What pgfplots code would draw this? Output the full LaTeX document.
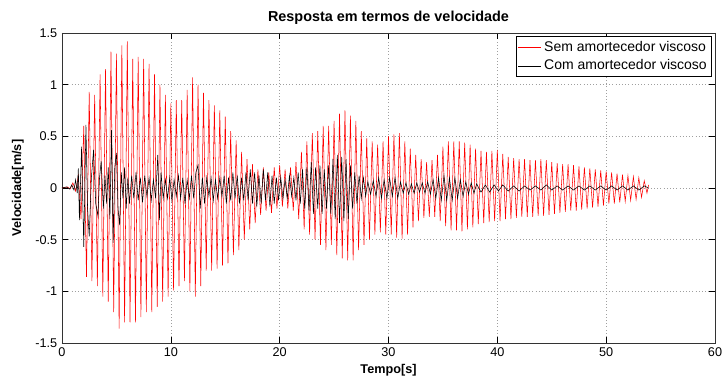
\documentclass[border=0pt]{standalone}
\usepackage{pgfplots}
\pgfplotsset{compat=1.18}
\usepackage{fontspec}
\setmainfont{Liberation Sans}
\begin{document}
\begin{tikzpicture}
\begin{axis}[name=ax,
  scale only axis, width=489.75pt, height=232.5pt,
  xmin=0, xmax=60, ymin=-1.5, ymax=1.5,
  xtick={0,10,...,60}, ytick={-1.5,-1,...,1.5},
  grid=major, major grid style={dotted, gray!75, line width=0.4pt},
  tick align=inside, tick style={black, line width=0.4pt},
  axis line style={black!80, line width=0.5pt},
  /pgf/number format/assume math mode=true,
  tick label style={font=\fontsize{9.5}{10}\selectfont},
  title={\textbf{Resposta em termos de velocidade}},
  title style={font=\fontsize{10.8}{12}\selectfont, yshift=-3pt},
  xlabel={\textbf{Tempo[s]}}, ylabel={\textbf{Velocidade[m/s]}},
  label style={font=\fontsize{9.5}{11}\selectfont},
  xlabel style={yshift=1pt}, ylabel style={yshift=2pt},
  legend style={at={(0.995,0.99)}, anchor=north east, draw=black, line width=0.4pt,
    font=\fontsize{10.5}{12}\selectfont, inner sep=1.5pt, row sep=1pt,
    legend cell align=left},
  legend image post style={line width=0.5pt},
]
\addplot[red, line width=0.4pt] coordinates {
(0,0) (0.5,0.01) (0.75,-0.01) (1.0,0.05) (1.25,-0.03) (1.5,0.12) (1.75,-0.3)
(2.0,0.6) (2.25,-0.86) (2.5,0.93) (2.75,-0.9) (3.0,0.9) (3.25,-0.95) (3.5,1.1) (3.75,-1.05)
(4.0,1.15) (4.25,-1.1) (4.5,1.32) (4.75,-1.2) (5.0,1.3) (5.25,-1.36) (5.5,1.38) (5.75,-1.3)
(6.0,1.42) (6.25,-1.3) (6.5,1.25) (6.75,-1.3) (7.0,1.27) (7.25,-1.25) (7.5,1.25) (7.75,-1.2)
(8.0,1.2) (8.25,-1.2) (8.5,1.1) (8.75,-1.15) (9.0,1.0) (9.25,-1.1) (9.5,0.9) (9.75,-1.05)
(10.0,0.82) (10.25,-0.99) (10.5,0.85) (10.75,-0.95) (11.0,0.85) (11.25,-0.9) (11.5,0.95) (11.75,-1.0)
(12.0,1.07) (12.25,-1.05) (12.5,1.0) (12.75,-0.95) (13.0,0.92) (13.25,-0.8) (13.5,0.85) (13.75,-0.8)
(14.0,0.8) (14.25,-0.78) (14.5,0.75) (14.75,-0.75) (15.0,0.69) (15.25,-0.73) (15.5,0.55) (15.75,-0.65)
(16.0,0.46) (16.25,-0.6) (16.5,0.35) (16.75,-0.5) (17.0,0.28) (17.25,-0.4) (17.5,0.23) (17.75,-0.34)
(18.0,0.18) (18.25,-0.26) (18.5,0.2) (18.75,-0.22) (19.0,0.15) (19.25,-0.24) (19.5,0.2) (19.75,-0.2)
(20.0,0.22) (20.25,-0.18) (20.5,0.18) (20.75,-0.2) (21.0,0.2) (21.25,-0.22) (21.5,0.25) (21.75,-0.3)
(22.0,0.35) (22.25,-0.4) (22.5,0.45) (22.75,-0.45) (23.0,0.53) (23.25,-0.5) (23.5,0.55) (23.75,-0.55)
(24.0,0.6) (24.25,-0.6) (24.5,0.6) (24.75,-0.55) (25.0,0.65) (25.25,-0.65) (25.5,0.72) (25.75,-0.68)
(26.0,0.75) (26.25,-0.7) (26.5,0.7) (26.75,-0.7) (27.0,0.65) (27.25,-0.6) (27.5,0.55) (27.75,-0.55)
(28.0,0.48) (28.25,-0.5) (28.5,0.45) (28.75,-0.45) (29.0,0.42) (29.25,-0.43) (29.5,0.45) (29.75,-0.45)
(30.0,0.5) (30.25,-0.45) (30.5,0.52) (30.75,-0.48) (31.0,0.53) (31.25,-0.49) (31.5,0.45) (31.75,-0.45)
(32.0,0.38) (32.25,-0.38) (32.5,0.32) (32.75,-0.32) (33.0,0.28) (33.25,-0.29) (33.5,0.25) (33.75,-0.28)
(34.0,0.27) (34.25,-0.28) (34.5,0.32) (34.75,-0.32) (35.0,0.4) (35.25,-0.37) (35.5,0.45) (35.75,-0.41)
(36.0,0.45) (36.25,-0.41) (36.5,0.45) (36.75,-0.42) (37.0,0.44) (37.25,-0.4) (37.5,0.42) (37.75,-0.38)
(38.0,0.38) (38.25,-0.35) (38.5,0.36) (38.75,-0.34) (39.0,0.35) (39.25,-0.33) (39.5,0.36) (39.75,-0.32)
(40.0,0.37) (40.25,-0.32) (40.5,0.33) (40.75,-0.3) (41.0,0.3) (41.25,-0.3) (41.5,0.29) (41.75,-0.29)
(42.0,0.28) (42.25,-0.28) (42.5,0.28) (42.75,-0.28) (43.0,0.27) (43.25,-0.28) (43.5,0.27) (43.75,-0.27)
(44.0,0.28) (44.25,-0.27) (44.5,0.27) (44.75,-0.26) (45.0,0.25) (45.25,-0.25) (45.5,0.24) (45.75,-0.24)
(46.0,0.23) (46.25,-0.23) (46.5,0.23) (46.75,-0.22) (47.0,0.22) (47.25,-0.22) (47.5,0.21) (47.75,-0.21)
(48.0,0.2) (48.25,-0.2) (48.5,0.19) (48.75,-0.19) (49.0,0.18) (49.25,-0.18) (49.5,0.17) (49.75,-0.17)
(50.0,0.16) (50.25,-0.15) (50.5,0.15) (50.75,-0.15) (51.0,0.14) (51.25,-0.14) (51.5,0.13) (51.75,-0.13)
(52.0,0.12) (52.25,-0.12) (52.5,0.11) (52.75,-0.11) (53.0,0.1) (53.25,-0.09) (53.5,0.07) (53.75,-0.05)
(53.9,0.03)
};
\addlegendentry{Sem amortecedor viscoso}
\addplot[black, line width=0.4pt] coordinates {
(0,0) (0.4,0.01) (0.7,-0.01) (0.9,0.03) (1.1,-0.02) (1.25,0.08) (1.4,-0.05) (1.5,0.19)
(1.6,-0.31) (1.8,0.4) (2.0,-0.57) (2.2,0.61) (2.35,-0.2) (2.5,-0.47) (2.7,0.1) (2.9,0.37)
(3.1,-0.15) (3.3,-0.27) (3.45,0.1) (3.6,0.26) (3.8,-0.2) (3.95,0.12) (4.1,-0.15) (4.25,0.2)
(4.4,-0.3) (4.55,0.56) (4.7,-0.53) (4.85,0.2) (5.0,0.34) (5.15,-0.2) (5.3,-0.36) (5.45,0.15)
(5.6,-0.1) (5.75,0.2) (5.9,-0.2) (6.05,0.1) (6.2,-0.15) (6.4,0.12) (6.6,-0.1) (6.8,0.15)
(7.0,-0.12) (7.2,0.1) (7.4,-0.14) (7.6,0.12) (7.8,-0.08) (8.0,0.1) (8.2,-0.12) (8.4,0.08)
(8.6,-0.1) (8.8,0.32) (8.95,-0.31) (9.1,0.15) (9.3,-0.1) (9.5,0.08) (9.7,-0.1) (9.9,0.1)
(10.1,-0.12) (10.3,0.08) (10.5,-0.08) (10.7,0.12) (10.9,-0.1) (11.1,0.1) (11.3,-0.15) (11.5,0.08)
(11.7,-0.1) (11.9,0.12) (12.1,-0.1) (12.3,0.15) (12.5,0.22) (12.7,-0.2) (12.9,0.1) (13.1,-0.15)
(13.3,0.1) (13.5,-0.08) (13.7,0.1) (13.9,-0.12) (14.1,0.08) (14.3,-0.1) (14.5,0.1) (14.7,-0.08)
(14.9,0.12) (15.1,-0.15) (15.3,0.1) (15.5,-0.12) (15.7,0.15) (15.9,-0.1) (16.1,0.12) (16.3,-0.15)
(16.5,0.1) (16.7,-0.12) (16.9,0.15) (17.1,-0.12) (17.3,0.18) (17.5,-0.15) (17.7,0.15) (17.9,-0.18)
(18.1,0.12) (18.3,-0.15) (18.5,0.18) (18.7,-0.12) (18.9,0.15) (19.1,-0.18) (19.3,0.12) (19.5,-0.15)
(19.7,0.1) (19.9,-0.12) (20.1,0.1) (20.3,-0.1) (20.5,0.08) (20.7,-0.1) (20.9,0.12) (21.1,-0.08)
(21.3,0.1) (21.5,-0.12) (21.7,0.15) (21.9,-0.15) (22.1,0.18) (22.3,-0.2) (22.5,0.2) (22.7,-0.22)
(22.9,0.25) (23.1,-0.25) (23.3,0.2) (23.5,-0.2) (23.7,0.22) (23.9,-0.25) (24.1,0.18) (24.3,-0.2)
(24.5,0.22) (24.7,-0.25) (24.9,0.28) (25.1,-0.3) (25.3,0.32) (25.5,-0.34) (25.7,0.3) (25.9,-0.32)
(26.1,0.28) (26.3,-0.3) (26.5,0.22) (26.7,-0.2) (26.9,0.15) (27.1,-0.15) (27.3,0.12) (27.5,-0.1)
(27.7,0.1) (27.9,-0.08) (28.1,0.06) (28.35,-0.06) (28.6,0.07) (28.85,-0.08) (29.1,0.1) (29.35,-0.1)
(29.6,0.08) (29.85,-0.1) (30.1,0.1) (30.35,-0.08) (30.6,0.1) (30.85,-0.1) (31.1,0.06) (31.35,-0.05)
(31.6,0.05) (31.85,-0.06) (32.1,0.04) (32.35,-0.05) (32.6,0.05) (32.85,-0.04) (33.1,0.05) (33.35,-0.05)
(33.6,0.06) (33.85,-0.06) (34.1,0.08) (34.35,-0.1) (34.6,0.1) (34.85,-0.12) (35.1,0.12) (35.35,-0.12)
(35.6,0.1) (35.85,-0.12) (36.1,0.1) (36.35,-0.1) (36.6,0.08) (36.85,-0.08) (37.1,0.06) (37.35,-0.06)
(37.6,0.05) (37.85,-0.05) (38.1,0.04) (38.5,-0.04) (38.9,0.03) (39.3,-0.04) (39.7,0.03) (40.1,-0.03)
(40.5,0.03) (41,-0.03) (41.5,0.02) (42,-0.03) (42.5,0.02) (43,-0.02) (43.5,0.02) (44,-0.02)
(44.5,0.03) (45,-0.02) (45.5,0.02) (46,-0.02) (46.5,0.02) (47,-0.02) (47.5,0.02) (48,-0.02)
(48.5,0.02) (49,-0.02) (49.5,0.02) (50,-0.02) (50.5,0.02) (51,-0.02) (51.5,0.02) (52,-0.02)
(52.5,0.02) (53,-0.02) (53.5,0.02) (53.9,0)
};
\addlegendentry{Com amortecedor viscoso}
\end{axis}
\pgfresetboundingbox
\path ([shift={(-46.5pt,-28.5pt)}]ax.south west) rectangle ([shift={(9pt,24.75pt)}]ax.north east);
\end{tikzpicture}
\end{document}
